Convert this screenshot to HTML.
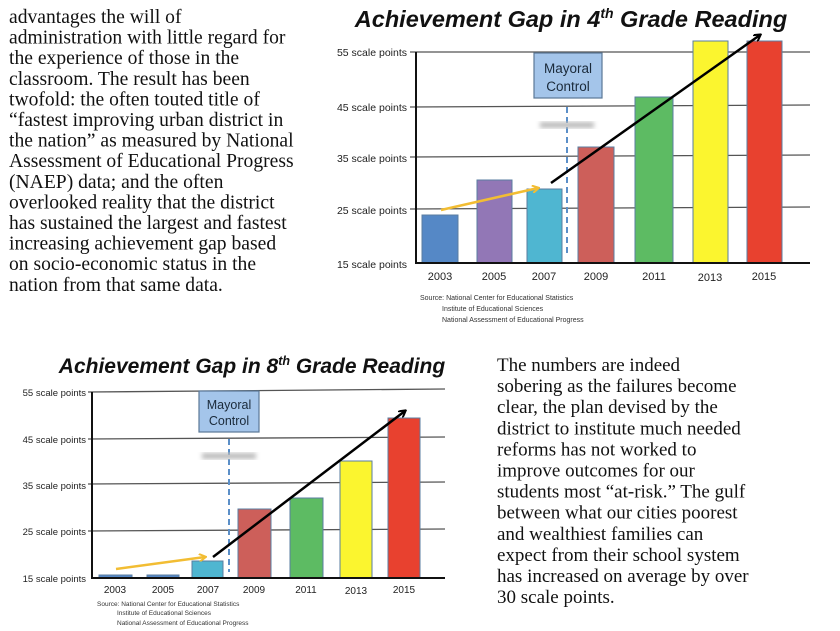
<!DOCTYPE html>
<html><head><meta charset="utf-8"><style>
html,body{margin:0;padding:0;background:#fff;}
svg{display:block;}
.p{font-family:"Liberation Serif",serif;font-size:19.6px;fill:#111;}
.t{font-family:"Liberation Sans",sans-serif;font-weight:bold;font-style:italic;fill:#111;}
.yl{font-family:"Liberation Sans",sans-serif;font-size:10.5px;fill:#222;text-anchor:end;}
.xl{font-family:"Liberation Sans",sans-serif;font-size:11px;fill:#222;text-anchor:middle;}
.src{font-family:"Liberation Sans",sans-serif;font-size:7px;fill:#333;}
.mc{font-family:"Liberation Sans",sans-serif;font-size:13.5px;fill:#1a2a3a;text-anchor:middle;}
</style></head><body>
<svg width="840" height="631" viewBox="0 0 840 631" xmlns="http://www.w3.org/2000/svg">
<defs>
<marker id="ab" markerWidth="8" markerHeight="8" refX="6" refY="4" orient="auto" markerUnits="userSpaceOnUse"><path d="M0,0 L7,4 L0,8" fill="none" stroke="#000" stroke-width="2"/></marker>
<marker id="ay" markerWidth="8" markerHeight="8" refX="6" refY="4" orient="auto" markerUnits="userSpaceOnUse"><path d="M0,0 L7,4 L0,8" fill="none" stroke="#f2bd33" stroke-width="2"/></marker>
<filter id="bl"><feGaussianBlur stdDeviation="2.5"/></filter>
</defs>
<g class="p">
<text x="9" y="23">advantages the will of</text>
<text x="9" y="43.6">administration with little regard for</text>
<text x="9" y="64.2">the experience of those in the</text>
<text x="9" y="84.8">classroom. The result has been</text>
<text x="9" y="105.4">twofold: the often touted title of</text>
<text x="9" y="126">“fastest improving urban district in</text>
<text x="9" y="146.6">the nation” as measured by National</text>
<text x="9" y="167.2">Assessment of Educational Progress</text>
<text x="9" y="187.8">(NAEP) data; and the often</text>
<text x="9" y="208.4">overlooked reality that the district</text>
<text x="9" y="229">has sustained the largest and fastest</text>
<text x="9" y="249.6">increasing achievement gap based</text>
<text x="9" y="270.2">on socio-economic status in the</text>
<text x="9" y="290.8">nation from that same data.</text>
</g>
<g class="p" style="font-size:19px">
<text x="497" y="371">The numbers are indeed</text>
<text x="497" y="392.1">sobering as the failures become</text>
<text x="497" y="413.2">clear, the plan devised by the</text>
<text x="497" y="434.3">district to institute much needed</text>
<text x="497" y="455.4">reforms has not worked to</text>
<text x="497" y="476.5">improve outcomes for our</text>
<text x="497" y="497.6">students most “at-risk.” The gulf</text>
<text x="497" y="518.7">between what our cities poorest</text>
<text x="497" y="539.8">and wealthiest families can</text>
<text x="497" y="560.9">expect from their school system</text>
<text x="497" y="582">has increased on average by over</text>
<text x="497" y="603">30 scale points.</text>
</g>

<!-- Chart 1 -->
<text class="t" x="571" y="27" font-size="23.5" text-anchor="middle">Achievement Gap in 4<tspan font-size="14" dy="-9">th</tspan><tspan dy="9"> Grade Reading</tspan></text>
<g stroke="#555" stroke-width="1.3">
<line x1="410" y1="52" x2="810" y2="52"/><line x1="410" y1="107" x2="810" y2="105"/><line x1="410" y1="157" x2="810" y2="155"/><line x1="410" y1="209" x2="810" y2="207"/>
</g>
<g class="yl"><text x="407" y="56">55 scale points</text><text x="407" y="111">45 scale points</text><text x="407" y="162">35 scale points</text><text x="407" y="214">25 scale points</text><text x="407" y="268">15 scale points</text></g>
<g stroke="#5a7da0" stroke-width="1">
<rect x="422" y="215" width="36" height="48" fill="#5588c6"/>
<rect x="477" y="180" width="35" height="83" fill="#9277b6"/>
<rect x="527" y="189" width="35" height="74" fill="#4fb6d1"/>
<rect x="578" y="147" width="36" height="116" fill="#cd5f5a"/>
<rect x="635" y="97" width="38" height="166" fill="#5dbb63"/>
<rect x="693" y="41" width="35" height="222" fill="#fbf52f"/>
<rect x="747" y="41" width="35" height="222" fill="#e8412f"/>
</g>
<line x1="416" y1="52" x2="416" y2="264" stroke="#111" stroke-width="2"/>
<line x1="415" y1="263" x2="810" y2="263" stroke="#111" stroke-width="2"/>
<g class="xl"><text x="440" y="280">2003</text><text x="494" y="280">2005</text><text x="544" y="280">2007</text><text x="596" y="280">2009</text><text x="654" y="280">2011</text><text x="710" y="281">2013</text><text x="764" y="280">2015</text></g>
<rect x="534" y="53" width="68" height="45" fill="#a4c5ea" stroke="#5a7896" stroke-width="1.2"/>
<text class="mc" x="568" y="73">Mayoral</text><text class="mc" x="568" y="91">Control</text>
<line x1="567" y1="107" x2="567" y2="256" stroke="#5b8fc8" stroke-width="2" stroke-dasharray="6,4"/>
<rect x="540" y="122" width="54" height="6" fill="#bbb" filter="url(#bl)"/>
<line x1="441" y1="210" x2="538" y2="188" stroke="#f2bd33" stroke-width="2.5" marker-end="url(#ay)"/>
<line x1="551" y1="183" x2="760" y2="35" stroke="#000" stroke-width="2.5" marker-end="url(#ab)"/>
<g class="src"><text x="420" y="300">Source: National Center for Educational Statistics</text><text x="442" y="311">Institute of Educational Sciences</text><text x="442" y="322">National Assessment of Educational Progress</text></g>

<!-- Chart 2 -->
<text class="t" x="252" y="373" font-size="21" text-anchor="middle">Achievement Gap in 8<tspan font-size="12.5" dy="-8">th</tspan><tspan dy="8"> Grade Reading</tspan></text>
<g stroke="#555" stroke-width="1.3">
<line x1="88" y1="392" x2="445" y2="389"/><line x1="88" y1="439" x2="445" y2="437"/><line x1="88" y1="484" x2="445" y2="482"/><line x1="88" y1="531" x2="445" y2="529"/>
</g>
<g class="yl" style="font-size:9.5px"><text x="86" y="396">55 scale points</text><text x="86" y="443">45 scale points</text><text x="86" y="489">35 scale points</text><text x="86" y="535">25 scale points</text><text x="86" y="582">15 scale points</text></g>
<g stroke="#5a7da0" stroke-width="1">
<rect x="99" y="575" width="33" height="3" fill="#5588c6"/>
<rect x="147" y="575" width="32" height="3" fill="#5588c6"/>
<rect x="192" y="561" width="31" height="17" fill="#4fb6d1"/>
<rect x="238" y="509" width="33" height="69" fill="#cd5f5a"/>
<rect x="290" y="498" width="33" height="80" fill="#5dbb63"/>
<rect x="340" y="461" width="32" height="117" fill="#fbf52f"/>
<rect x="388" y="418" width="32" height="160" fill="#e8412f"/>
</g>
<line x1="92" y1="392" x2="92" y2="579" stroke="#111" stroke-width="2"/>
<line x1="91" y1="578" x2="445" y2="578" stroke="#111" stroke-width="2"/>
<g class="xl" style="font-size:10px"><text x="115" y="593">2003</text><text x="163" y="593">2005</text><text x="208" y="593">2007</text><text x="254" y="593">2009</text><text x="306" y="593">2011</text><text x="356" y="594">2013</text><text x="404" y="593">2015</text></g>
<rect x="199" y="391" width="60" height="41" fill="#a4c5ea" stroke="#5a7896" stroke-width="1.2"/>
<text class="mc" x="229" y="409" style="font-size:12.5px">Mayoral</text><text class="mc" x="229" y="425" style="font-size:12.5px">Control</text>
<line x1="229" y1="439" x2="229" y2="572" stroke="#5b8fc8" stroke-width="2" stroke-dasharray="6,4"/>
<rect x="202" y="453" width="54" height="6" fill="#bbb" filter="url(#bl)"/>
<line x1="116" y1="569" x2="205" y2="557" stroke="#f2bd33" stroke-width="2.5" marker-end="url(#ay)"/>
<line x1="213" y1="557" x2="405" y2="411" stroke="#000" stroke-width="2.5" marker-end="url(#ab)"/>
<g class="src" style="font-size:6.5px"><text x="97" y="606">Source: National Center for Educational Statistics</text><text x="117" y="615">Institute of Educational Sciences</text><text x="117" y="625">National Assessment of Educational Progress</text></g>
</svg>
</body></html>
